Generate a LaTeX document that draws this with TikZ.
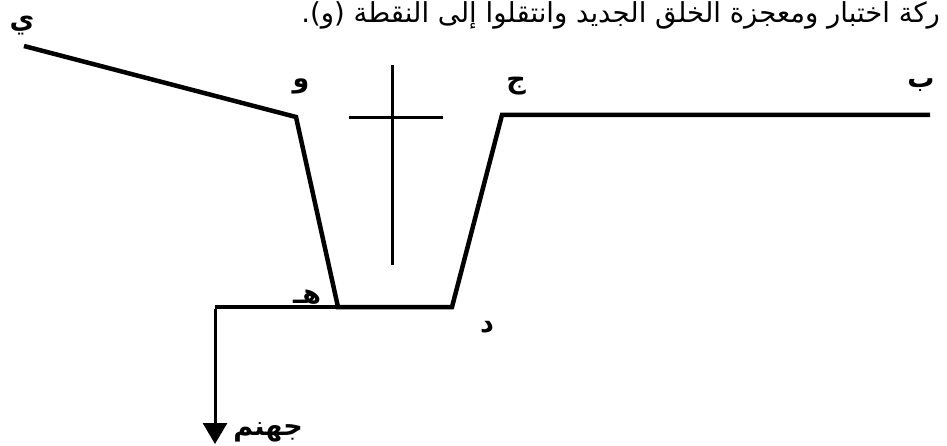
\documentclass[tikz,border=0pt]{standalone}
\usepackage{fontspec}
\usetikzlibrary{arrows.meta}
\TeXXeTstate=1
\newfontfamily\arabicfont[Script=Arabic]{DejaVu Sans}
\begin{document}
\begin{tikzpicture}[x=1pt,y=-1pt,
  pathline/.style={line width=4.5pt,line join=miter},
  crossline/.style={line width=3pt},
  lbl/.style={font=\arabicfont\bfseries\fontsize{27}{30}\selectfont,inner sep=0pt},
  toptext/.style={font=\arabicfont\fontsize{27.5}{30}\selectfont,inner sep=0pt}]
\useasboundingbox (0,0) rectangle (947,446);
% points
\coordinate (Y) at (24,46);
\coordinate (W) at (296,117);
\coordinate (H) at (338,307);
\coordinate (D) at (452,307);
\coordinate (J) at (502,115);
\coordinate (B) at (930,115);
\coordinate (L) at (215,307);
\coordinate (Hell) at (215,444);
\coordinate (CT) at (392,65);
\coordinate (CB) at (392,265);
\coordinate (CL) at (349,118);
\coordinate (CR) at (443,118);
% paths
\draw[pathline] (Y) -- (W) -- (H) -- (D) -- (J) -- (B);
\draw[pathline] (H) -- (L);
\draw[line width=3pt,-{Triangle[width=24pt,length=21pt]}] ([yshift=-2pt]L) -- (Hell);
\draw[crossline] (CT) -- (CB);
\draw[crossline] (CL) -- (CR);
% labels
\node[lbl] (lY) at (22,26) {\beginR ي\endR};
\node[lbl] (lW) at (301,86) {\beginR و\endR};
\node[lbl] (lJ) at (516,86) {\beginR ج\endR};
\node[lbl] (lB) at (921,85) {\beginR ب\endR};
\node[lbl] (lD) at (487,327) {\beginR د\endR};
\node[lbl] (lH) at (307,297) {\beginR هـ\endR};
\node[lbl] (lHell) at (268,432) {\beginR جهنم\endR};
\node[toptext,anchor=base east] (top) at (940,23) {\beginR ركة اختبار ومعجزة الخلق الجديد وانتقلوا إلى النقطة (و).\endR};
\end{tikzpicture}
\end{document}
